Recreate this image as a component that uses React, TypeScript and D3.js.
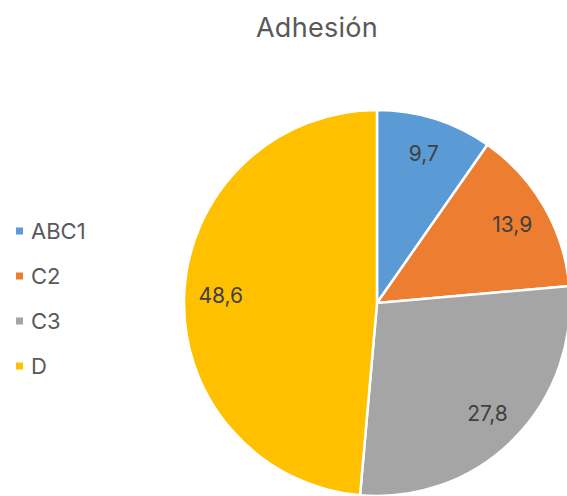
import React, { useEffect, useRef } from 'react';
import * as d3 from 'd3';

const categories = ['ABC1', 'C2', 'C3', 'D'];
const values = [9.7, 13.9, 27.8, 48.6];
const colors = ['#5B9BD5', '#ED7D31', '#A5A5A5', '#FFC000'];
const title = 'Adhesión';

const W = 567;
const H = 496;

export default function App() {
  const svgRef = useRef<SVGSVGElement>(null);

  useEffect(() => {
    if (!svgRef.current) return;
    const svg = d3.select(svgRef.current);
    svg.selectAll('*').remove();

    const font = 'Inter, "Noto Sans", sans-serif';
    const cx = 377;
    const cy = 303;
    const radius = 193;

    // title
    svg.append('text')
      .attr('x', 317)
      .attr('y', 37)
      .attr('text-anchor', 'middle')
      .attr('fill', '#595959')
      .style('font-family', font)
      .style('font-size', '27px')
      .style('letter-spacing', '0.3px')
      .text(title);

    const pie = d3.pie<number>().sort(null).value(d => d);
    const arcs = pie(values);
    const arc = d3.arc<d3.PieArcDatum<number>>().innerRadius(0).outerRadius(radius);
    const labelArc = d3.arc<d3.PieArcDatum<number>>().innerRadius(radius * 0.81).outerRadius(radius * 0.81);

    const g = svg.append('g').attr('transform', `translate(${cx},${cy})`);

    g.selectAll('path')
      .data(arcs)
      .enter().append('path')
      .attr('d', arc)
      .attr('fill', (_, i) => colors[i])
      .attr('stroke', '#ffffff')
      .attr('stroke-width', 2.5)
      .attr('stroke-linejoin', 'round');

    g.selectAll('text.lbl')
      .data(arcs)
      .enter().append('text')
      .attr('class', 'lbl')
      .attr('transform', d => `translate(${labelArc.centroid(d)})`)
      .attr('text-anchor', 'middle')
      .attr('dy', '0.35em')
      .attr('fill', '#404040')
      .style('font-family', font)
      .style('font-size', '21px')
      .text(d => d3.format('.1f')(d.data).replace('.', ','));

    // legend
    const legend = svg.append('g');
    const rowY = d3.scalePoint<string>().domain(categories).range([231, 366]);
    categories.forEach((c, i) => {
      const y = rowY(c) as number;
      legend.append('rect')
        .attr('x', 16)
        .attr('y', y - 3.5)
        .attr('width', 7)
        .attr('height', 7)
        .attr('fill', colors[i]);
      legend.append('text')
        .attr('x', 31)
        .attr('y', y)
        .attr('dy', '0.35em')
        .attr('fill', '#595959')
        .style('font-family', font)
        .style('font-size', '22px')
        .text(c);
    });
  }, []);

  return (
    <svg
      ref={svgRef}
      width={W}
      height={H}
      style={{ position: 'absolute', left: 0, top: 0, background: '#ffffff' }}
    />
  );
}
